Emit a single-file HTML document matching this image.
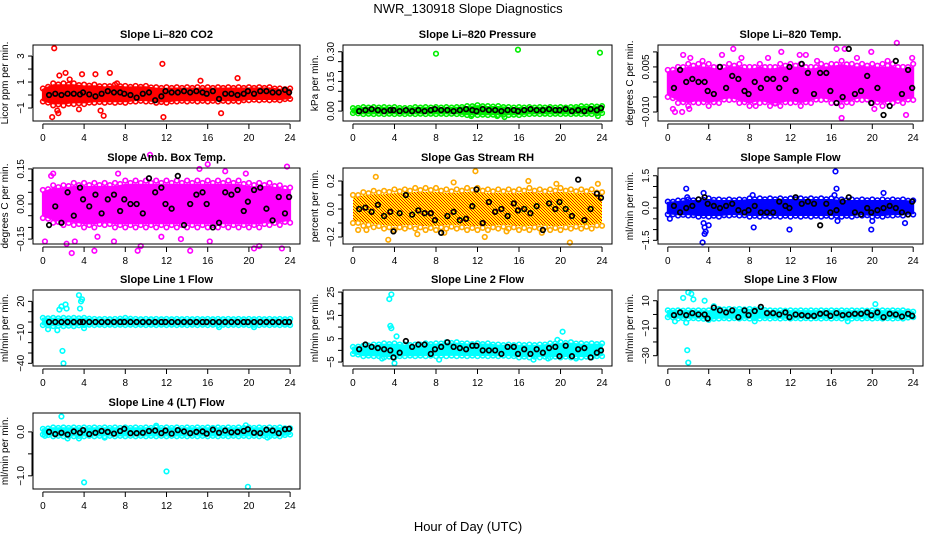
<!DOCTYPE html>
<html><head><meta charset="utf-8"><style>
body{margin:0;background:#fff}
svg{display:block;font-family:"Liberation Sans",Arial,sans-serif}
</style></head><body>
<svg id="chart" width="936" height="540" viewBox="0 0 936 540" xmlns="http://www.w3.org/2000/svg">
<defs>
<pattern id="rhpat" width="3" height="3" patternUnits="userSpaceOnUse">
<rect width="3" height="3" fill="#ffff00"/><rect width="1" height="1" fill="#ff0000"/><rect x="1" y="1" width="1" height="1" fill="#ff0000"/><rect x="2" y="2" width="1" height="1" fill="#ff0000"/>
</pattern>
</defs>
<text x="468" y="13" font-size="13" text-anchor="middle">NWR_130918  Slope Diagnostics</text>
<text x="468" y="531" font-size="13" text-anchor="middle">Hour of Day (UTC)</text>
</svg>
<script>
const bandHours=[0,1,2,3,4,5,6,7,8,9,10,11,12,13,14,15,16,17,18,19,20,21,22,23,24];
const blackHours=[0.6,1.2,1.8,2.4,3.0,3.6,3.9,4.5,5.1,5.7,6.3,6.9,7.5,7.9,8.5,9.1,9.7,10.3,10.9,11.5,11.9,12.5,13.1,13.7,14.3,14.9,15.5,15.9,16.5,17.1,17.7,18.3,18.9,19.5,19.9,20.5,21.1,21.7,22.3,22.9,23.5,23.9];
const xTicks=[0,4,8,12,16,20,24];

// CO2
const co2Black=[0,0.1,0,0.1,0.1,0.05,0.2,0.05,-0.1,0.1,0.3,0.2,0.2,0.1,0,-0.2,0.1,0.2,-0.4,-0.1,0.3,0.2,0.2,0.3,0.2,0.3,0.2,0.1,0.3,-0.3,0.1,0.1,0,0.1,0.3,0.1,0.3,0.3,0.2,0.2,0.4,0.2];
const co2Lo=[-0.5,-0.8,-0.8,-0.7,-0.7,-0.6,-0.6,-0.6,-0.6,-0.5,-0.5,-0.6,-0.6,-0.5,-0.5,-0.5,-0.5,-0.5,-0.5,-0.5,-0.4,-0.4,-0.4,-0.4,-0.3];
const co2Hi=[0.5,0.9,0.9,0.9,0.8,0.8,0.7,0.8,0.7,0.7,0.7,0.6,0.6,0.6,0.6,0.6,0.6,0.6,0.6,0.6,0.6,0.6,0.6,0.5,0.5];
const co2OutX=[1.1,0.9,1.4,1.5,1.6,2.2,3.5,3.8,5.1,5.6,5.9,6.5,11.6,11.7,15.3,17.3,18.9,2.6,7.2];
const co2OutY=[3.6,-1.7,-1.2,-1.4,1.5,1.7,-1.1,1.6,1.6,-1.2,-1.6,1.7,2.4,-1.7,1.1,-1.4,1.3,1.2,0.9];
// Pressure
const presBlack=[0.0,0.005,0.01,0.005,0.0,0.005,0.005,0.0,0.005,0.0,0.005,0.0,0.005,0.01,0.005,0.005,0.0,0.005,0.01,0.005,0.0,0.01,0.005,0.005,0.0,0.005,0.005,0.0,0.005,0.01,0.005,0.005,0.01,0.005,0.005,0.01,0.0,0.005,0.0,0.01,0.005,0.015];
const presLo=[-0.01,-0.015,-0.015,-0.015,-0.015,-0.015,-0.015,-0.015,-0.015,-0.015,-0.015,-0.02,-0.02,-0.02,-0.02,-0.02,-0.02,-0.015,-0.015,-0.015,-0.015,-0.015,-0.015,-0.015,-0.01];
const presHi=[0.015,0.02,0.02,0.02,0.02,0.015,0.02,0.02,0.02,0.02,0.02,0.025,0.03,0.025,0.025,0.02,0.02,0.02,0.02,0.02,0.02,0.02,0.025,0.025,0.025];
const presOutX=[8.0,15.9,23.8,11.4,13.9,14.6,23.6];
const presOutY=[0.29,0.31,0.295,-0.025,-0.025,-0.03,-0.025];
// Li-820 Temp
const tempBlack=[-0.002,0.004,0.0,0.001,0.0,0.0,-0.003,-0.004,0.005,-0.002,0.002,0.001,-0.003,-0.004,0.0,-0.002,0.001,0.001,-0.002,0.001,0.005,-0.003,0.006,0.003,-0.004,0.003,0.003,-0.003,-0.007,-0.005,0.011,-0.004,-0.003,0.002,-0.007,-0.002,-0.011,-0.008,0.007,-0.004,0.004,-0.002];
const tempLo=[-0.005,-0.007,-0.008,-0.007,-0.008,-0.007,-0.006,-0.007,-0.008,-0.007,-0.008,-0.008,-0.007,-0.008,-0.007,-0.006,-0.007,-0.008,-0.007,-0.006,-0.007,-0.008,-0.007,-0.007,-0.006];
const tempHi=[0.004,0.005,0.006,0.006,0.006,0.005,0.006,0.006,0.005,0.006,0.005,0.006,0.006,0.006,0.005,0.006,0.006,0.007,0.006,0.006,0.006,0.006,0.006,0.005,0.006];
const tempOutX=[0.5,0.7,1.5,2.1,2.2,4.0,5.3,6.4,7.2,8.6,9.8,10.5,11.1,12.9,13.5,14.6,16.5,17.0,17.3,18.5,19.9,20.2,21.5,22.4,23.3,23.9,1.4,3.4];
const tempOutY=[-0.009,-0.01,0.009,-0.009,0.008,-0.006,0.009,0.011,0.008,-0.008,0.008,-0.007,0.01,0.009,0.009,0.007,0.011,-0.012,0.011,0.008,0.010,-0.009,0.007,0.013,-0.011,0.008,-0.01,0.007];
// Amb box temp
const ambBlack=[-0.09,-0.01,-0.08,0.05,-0.05,0.07,0.02,-0.01,0.04,-0.04,0.02,0.04,-0.03,0.02,0.0,0.0,-0.04,0.11,0.05,0.07,0.0,-0.02,0.12,-0.09,0.0,0.04,0.05,0.0,-0.1,-0.08,0.05,0.04,0.06,-0.03,0.01,0.06,0.07,-0.02,-0.07,0.03,-0.04,0.03];
const ambLo=[-0.06,-0.08,-0.09,-0.09,-0.1,-0.1,-0.09,-0.1,-0.1,-0.1,-0.1,-0.1,-0.1,-0.1,-0.1,-0.1,-0.1,-0.1,-0.1,-0.1,-0.1,-0.1,-0.09,-0.09,-0.08];
const ambHi=[0.06,0.08,0.08,0.09,0.09,0.09,0.09,0.09,0.1,0.1,0.1,0.1,0.1,0.1,0.1,0.1,0.1,0.1,0.1,0.1,0.09,0.09,0.09,0.08,0.07];
const ambOutX=[0.2,0.8,2.3,2.8,3.1,5.0,5.3,6.9,9.2,9.5,10.4,14.3,15.2,16.0,16.2,20.5,21.0,23.2,23.7,1.0,13.4,7.3,11.5,17.7,19.7];
const ambOutY=[-0.16,0.12,-0.17,-0.21,-0.16,-0.2,-0.14,-0.16,-0.2,-0.18,0.21,-0.2,0.15,0.17,-0.16,-0.19,-0.18,-0.19,0.16,0.13,-0.15,0.13,-0.14,0.14,0.13];
// RH
const rhBlack=[0.0,0.01,-0.02,0.03,-0.05,-0.02,-0.16,-0.03,0.1,-0.04,-0.01,-0.03,-0.03,-0.08,-0.17,-0.05,-0.02,-0.08,-0.07,0.02,0.14,-0.1,0.05,-0.02,0.0,-0.05,0.04,-0.01,0.0,-0.03,0.02,-0.15,0.04,0.0,0.05,0.0,-0.05,0.21,-0.08,0.0,0.11,0.08];
const rhLo=[-0.1,-0.12,-0.13,-0.14,-0.15,-0.14,-0.14,-0.15,-0.15,-0.14,-0.14,-0.15,-0.15,-0.15,-0.14,-0.14,-0.15,-0.15,-0.14,-0.15,-0.15,-0.14,-0.14,-0.14,-0.12];
const rhHi=[0.1,0.12,0.13,0.13,0.14,0.14,0.15,0.15,0.15,0.14,0.14,0.15,0.15,0.14,0.14,0.14,0.14,0.15,0.14,0.14,0.15,0.14,0.14,0.14,0.12];
const rhOutX=[0.5,3.4,2.2,6.2,9.7,11.8,12.7,20.9,19.6,14.8,18.2,1.3,23.6,8.8,16.9];
const rhOutY=[-0.15,-0.22,0.23,-0.18,0.19,0.27,-0.2,-0.24,0.18,-0.16,-0.17,-0.15,0.18,-0.17,0.2];
// Sample flow
const sfBlack=[0.1,-0.2,0.0,0.1,0.4,0.5,0.2,0.1,0.0,0.1,0.2,-0.1,-0.2,-0.1,0.1,-0.2,-0.2,-0.2,0.3,0.1,0.0,0.5,0.2,0.3,0.2,-0.8,0.2,-0.2,-0.1,0.3,0.5,-0.2,-0.3,0.0,-0.2,-0.1,0.0,0.1,0.0,-0.2,-0.3,0.3];
const sfLo=[-0.3,-0.35,-0.35,-0.4,-0.4,-0.4,-0.35,-0.35,-0.4,-0.4,-0.4,-0.4,-0.4,-0.4,-0.4,-0.4,-0.4,-0.4,-0.4,-0.35,-0.4,-0.4,-0.35,-0.35,-0.3];
const sfHi=[0.3,0.35,0.4,0.4,0.45,0.4,0.4,0.4,0.45,0.45,0.45,0.45,0.45,0.45,0.45,0.45,0.45,0.4,0.4,0.4,0.4,0.4,0.4,0.4,0.35];
const sfOutX=[1.8,1.9,3.4,3.5,3.6,3.7,4.0,3.5,8.3,8.4,11.9,16.3,16.4,16.5,16.6,19.9,20.0,21.1,23.2,0.2,3.6];
const sfOutY=[0.9,0.5,-1.6,-0.7,-1.2,-1.1,-0.8,0.7,0.6,-0.9,-1.0,0.6,1.7,0.9,-0.6,-1.0,-0.6,0.7,-0.7,-0.5,-0.9];
// Line 1
const l1Black=[0,0,0,0,0,0,0,0,0,0,0,0,0,0,0,0,0,0,0,0,0,0,0,0,0,0,0,0,0,0,0,0,0,0,0,0,0,0,0,0,0,0];
const l1Lo=[-3,-4,-4,-4,-3,-3,-3,-3,-3,-3,-3,-3,-3,-3,-3,-3,-3,-3,-3,-3,-3,-3,-3,-3,-3];
const l1Hi=[4,4,4,4,4,3,3,3,4,3,3,3,3,3,3,3,3,3,3,3,3,3,3,3,3];
const l1OutX=[0.5,1.4,1.6,1.8,2.0,1.9,2.2,2.3,3.5,3.6,3.7,3.8,4.0,17.1,20.5];
const l1OutY=[-7,-8,12,15,-40,-28,17,13,26,13,20,22,-6,-5,-5];
// Line 2
const l2Black=[0.5,2.5,1.5,1.0,0.5,0.0,-3.0,-1.0,4.0,1.5,2.5,2.5,-1.5,0.5,1.5,3.5,1.5,1.0,0.5,2.0,2.0,0.0,0.0,0.0,-1.5,1.5,1.5,-1.5,0.5,-1.5,0.5,-1.0,1.0,1.5,-2.5,2.0,-2.5,0.5,1.0,-3.0,-1.0,0.0];
const l2Lo=[-1.5,-2.5,-2.5,-3,-3,-2.5,-2.5,-2.5,-2.5,-2.5,-2.5,-2.5,-2.5,-2.5,-2.5,-2.5,-3,-3,-3,-3,-3,-3,-3,-3,-2.5];
const l2Hi=[1.5,2,2.5,3,3,2.5,2.5,3,3,3.5,3.5,3,3,3,2.5,2.5,2.5,2.5,2.5,3,3.5,3.5,3,3,3];
const l2OutX=[3.5,3.7,3.6,3.7,4.2,4.0,20.2,18.8,19.7,8.3,2.8,17.4,21.5];
const l2OutY=[22,24,10.5,9.5,6,-5.5,8,-3.5,4.5,-4,-3.5,-4,-3.5];
// Line 3
const l3Black=[-0.5,1.5,-0.5,1,0,0,-3,5,3,1.5,3,-2,3,-0.5,2.5,5.5,1,1,0,1.5,-2,0,-0.5,-1,-1,0.5,1,-1,1,-0.5,0,0.5,0.5,1.5,-0.5,1.5,-2,0.5,0,-1.5,0.5,-1];
const l3Lo=[-2,-3,-3,-3,-4,-3,-3,-3,-3,-3,-3,-3,-3,-3,-3,-3,-3,-3,-3,-3,-3,-3,-3,-3,-2];
const l3Hi=[3,3,3,3,3,4,4,4,4,4,3,3,3,3,3,3,3,3,3,3,3,3,3,3,2];
const l3OutX=[1.5,2.0,2.3,2.5,1.9,2.0,3.6,4.5,20.3,0.7,1.8,8.5,17.6];
const l3OutY=[12,16,15,11,-26,-35,10,6,7.5,-5,-6,-5,-5];
// Line 4
const l4Black=[0.0,-0.05,-0.02,-0.06,0.01,-0.02,0.04,-0.05,-0.02,0.02,0.0,-0.04,0.02,0.07,-0.03,-0.03,-0.02,0.02,0.03,-0.03,0.03,-0.04,0.04,0.01,-0.03,0.0,0.01,-0.04,0.05,-0.02,0.03,-0.01,0.0,0.02,0.06,-0.02,-0.03,0.05,0.03,-0.03,0.06,0.07];
const l4Lo=[-0.06,-0.1,-0.1,-0.1,-0.1,-0.1,-0.1,-0.1,-0.1,-0.1,-0.1,-0.1,-0.1,-0.1,-0.1,-0.1,-0.1,-0.1,-0.1,-0.1,-0.1,-0.1,-0.1,-0.1,-0.06];
const l4Hi=[0.07,0.1,0.1,0.1,0.1,0.1,0.1,0.1,0.1,0.1,0.1,0.1,0.1,0.1,0.1,0.1,0.1,0.1,0.1,0.1,0.1,0.1,0.1,0.1,0.08];
const l4OutX=[4.0,12.0,19.9,1.8,2.4,3.5,0.2,6.0,11.0,19.7,21.8];
const l4OutY=[-1.15,-0.9,-1.25,0.35,-0.15,-0.15,-0.09,-0.13,0.14,0.15,-0.13];

const svg=document.getElementById('chart');
const NS='http://www.w3.org/2000/svg';
function mk(tag,attrs,parent){const e=document.createElementNS(NS,tag);for(const k in attrs)e.setAttribute(k,attrs[k]);(parent||svg).appendChild(e);return e;}

const cols=[[33,300],[343,612],[658,923]];
const rows=[[45,121],[168,244],[290,366],[413,489]];
const panels=[
 {key:'co2',title:'Slope Li\u2013820 CO2',ylab:'Licor ppm per min.',c:0,r:0,ylim:[-2,3.85],ticks:[-1,0,1,2,3],labels:[-1,1,3],fmt:v=>v==-1?'\u22121':String(v),color:'#ff0000',black:co2Black,lo:co2Lo,hi:co2Hi,ox:co2OutX,oy:co2OutY},
 {key:'pressure',title:'Slope Li\u2013820 Pressure',ylab:'kPa per min.',c:1,r:0,ylim:[-0.05,0.334],ticks:[0,0.05,0.1,0.15,0.2,0.25,0.3],labels:[0,0.15,0.3],fmt:v=>v.toFixed(2),color:'#00ee00',black:presBlack,lo:presLo,hi:presHi,ox:presOutX,oy:presOutY},
 {key:'li820-temp',title:'Slope Li\u2013820 Temp.',ylab:'degrees C per min.',c:2,r:0,ylim:[-0.013,0.0123],ticks:[-0.01,-0.005,0,0.005,0.01],labels:[-0.01,0.005],fmt:v=>v<0?'\u2212'+(-v).toFixed(3):v.toFixed(3),color:'#ff00ff',black:tempBlack,lo:tempLo,hi:tempHi,ox:tempOutX,oy:tempOutY},
 {key:'amb-box-temp',title:'Slope Amb. Box Temp.',ylab:'degrees C per min.',c:0,r:1,ylim:[-0.171,0.154],ticks:[-0.15,-0.1,-0.05,0,0.05,0.1,0.15],labels:[-0.15,0,0.15],fmt:v=>v<0?'\u2212'+(-v).toFixed(2):v.toFixed(2),color:'#ff00ff',black:ambBlack,lo:ambLo,hi:ambHi,ox:ambOutX,oy:ambOutY},
 {key:'gas-stream-rh',title:'Slope Gas Stream RH',ylab:'percent per min.',c:1,r:1,ylim:[-0.25,0.293],ticks:[-0.2,-0.1,0,0.1,0.2],labels:[-0.2,0,0.2],fmt:v=>v<0?'\u2212'+(-v).toFixed(1):v.toFixed(1),color:'#ffcc00',fill:'url(#rhpat)',black:rhBlack,lo:rhLo,hi:rhHi,ox:rhOutX,oy:rhOutY},
 {key:'sample-flow',title:'Slope Sample Flow',ylab:'ml/min per min.',c:2,r:1,ylim:[-1.67,1.86],ticks:[-1.5,-1,-0.5,0,0.5,1,1.5],labels:[-1.5,0,1.5],fmt:v=>v<0?'\u2212'+(-v).toFixed(1):v.toFixed(1),color:'#0000ff',black:sfBlack,lo:sfLo,hi:sfHi,ox:sfOutX,oy:sfOutY},
 {key:'line1-flow',title:'Slope Line 1 Flow',ylab:'ml/min per min.',c:0,r:2,ylim:[-42.6,31],ticks:[-40,-30,-20,-10,0,10,20],labels:[-40,-10,20],fmt:v=>v<0?'\u2212'+(-v):String(v),color:'#00ffff',black:l1Black,lo:l1Lo,hi:l1Hi,ox:l1OutX,oy:l1OutY},
 {key:'line2-flow',title:'Slope Line 2 Flow',ylab:'ml/min per min.',c:1,r:2,ylim:[-6.7,25.9],ticks:[-5,0,5,10,15,20,25],labels:[-5,5,15,25],fmt:v=>v<0?'\u2212'+(-v):String(v),color:'#00ffff',black:l2Black,lo:l2Lo,hi:l2Hi,ox:l2OutX,oy:l2OutY},
 {key:'line3-flow',title:'Slope Line 3 Flow',ylab:'ml/min per min.',c:2,r:2,ylim:[-37.5,17.8],ticks:[-30,-20,-10,0,10],labels:[-30,-10,10],fmt:v=>v<0?'\u2212'+(-v):String(v),color:'#00ffff',black:l3Black,lo:l3Lo,hi:l3Hi,ox:l3OutX,oy:l3OutY},
 {key:'line4-flow',title:'Slope Line 4 (LT) Flow',ylab:'ml/min per min.',c:0,r:3,ylim:[-1.3,0.43],ticks:[-1,-0.5,0],labels:[-1,0],fmt:v=>v<0?'\u2212'+(-v).toFixed(1):v.toFixed(1),color:'#00ffff',black:l4Black,lo:l4Lo,hi:l4Hi,ox:l4OutX,oy:l4OutY}
];

panels.forEach(p=>{
 const [l,r]=cols[p.c],[t,b]=rows[p.r];
 const g=mk('g',{});
 
 
 const xs=v=>l+(v+0.96)/25.92*(r-l);
 const ys=v=>b-(v-p.ylim[0])/(p.ylim[1]-p.ylim[0])*(b-t);
 const cg=mk('g',{},g);
 
 
 // band (inset slightly, edge circles added for texture)
 const inset=(i,sign)=>{const m=(p.hi[i]+p.lo[i])/2;return m+sign*(p.hi[i]-p.lo[i])/2*0.82;};
 let d='M'+bandHours.map((h,i)=>xs(h).toFixed(1)+','+ys(inset(i,1)).toFixed(1)).join('L');
 for(let i=bandHours.length-1;i>=0;i--)d+='L'+xs(bandHours[i]).toFixed(1)+','+ys(inset(i,-1)).toFixed(1);
 const band=mk('path',{d:d+'Z',fill:p.fill||p.color,stroke:p.fill?'none':p.color,'stroke-width':2,'stroke-linejoin':'round'},cg);
 
 
 const ec=p.fill?'#ffaa00':p.color;
 bandHours.forEach((h,i)=>{
  [p.hi[i],p.lo[i]].forEach(v=>{
   const c=mk('circle',{cx:xs(h),cy:ys(v),r:2.3,fill:'none',stroke:ec,'stroke-width':1.6},cg);
   
   
  });
  if(i<bandHours.length-1){
   [(p.hi[i]+p.hi[i+1])/2,(p.lo[i]+p.lo[i+1])/2].forEach((v,k)=>{
    const c=mk('circle',{cx:xs(h+0.5),cy:ys(v*(k?0.9:0.9)),r:2.3,fill:'none',stroke:ec,'stroke-width':1.6},cg);
    
    
   });
  }
 });
 p.ox.forEach((x,i)=>{
  const c=mk('circle',{cx:xs(x),cy:ys(p.oy[i]),r:2.3,fill:'none',stroke:p.fill?'#ffaa00':p.color,'stroke-width':1.6},cg);
  
  
 });
 blackHours.forEach((x,i)=>{
  const c=mk('circle',{cx:xs(x),cy:ys(p.black[i]),r:2.3,fill:'none',stroke:'#000','stroke-width':1.7},cg);
  
  
 });
 const box=mk('rect',{x:l,y:t,width:r-l,height:b-t,fill:'none',stroke:'#000','stroke-width':1},g);
 
 
 const tt=mk('text',{x:(l+r)/2,y:t-7,'font-size':11,'font-weight':'bold','text-anchor':'middle'},g);
 tt.textContent=p.title;
 
 
 // x axis
 const xa=mk('g',{},g);
 
 
 mk('line',{x1:xs(0),x2:xs(24),y1:b+3,y2:b+3,stroke:'#000'},xa);
 xTicks.forEach(v=>{
  mk('line',{x1:xs(v),x2:xs(v),y1:b+3,y2:b+8,stroke:'#000'},xa);
  const tx=mk('text',{x:xs(v),y:b+20,'font-size':10,'text-anchor':'middle'},xa);
  tx.textContent=v;
  
  
 });
 // y axis
 const ya=mk('g',{},g);
 
 
 const tk=p.ticks;
 mk('line',{x1:l-1,x2:l-1,y1:ys(tk[0]),y2:ys(tk[tk.length-1]),stroke:'#000'},ya);
 tk.forEach(v=>mk('line',{x1:l-5,x2:l-1,y1:ys(v),y2:ys(v),stroke:'#000'},ya));
 p.labels.forEach(v=>{
  const x=l-9,y=ys(v);
  const tx=mk('text',{x:x,y:y,'font-size':10,'text-anchor':'middle',transform:'rotate(-90 '+x+' '+y+')'},ya);
  tx.textContent=p.fmt(v);
  
  
 });
 const yl=mk('text',{x:l-25,y:(t+b)/2,'font-size':10,'text-anchor':'middle',transform:'rotate(-90 '+(l-25)+' '+((t+b)/2)+')'},g);
 yl.textContent=p.ylab;
 
 
});
</script>
</body></html>
